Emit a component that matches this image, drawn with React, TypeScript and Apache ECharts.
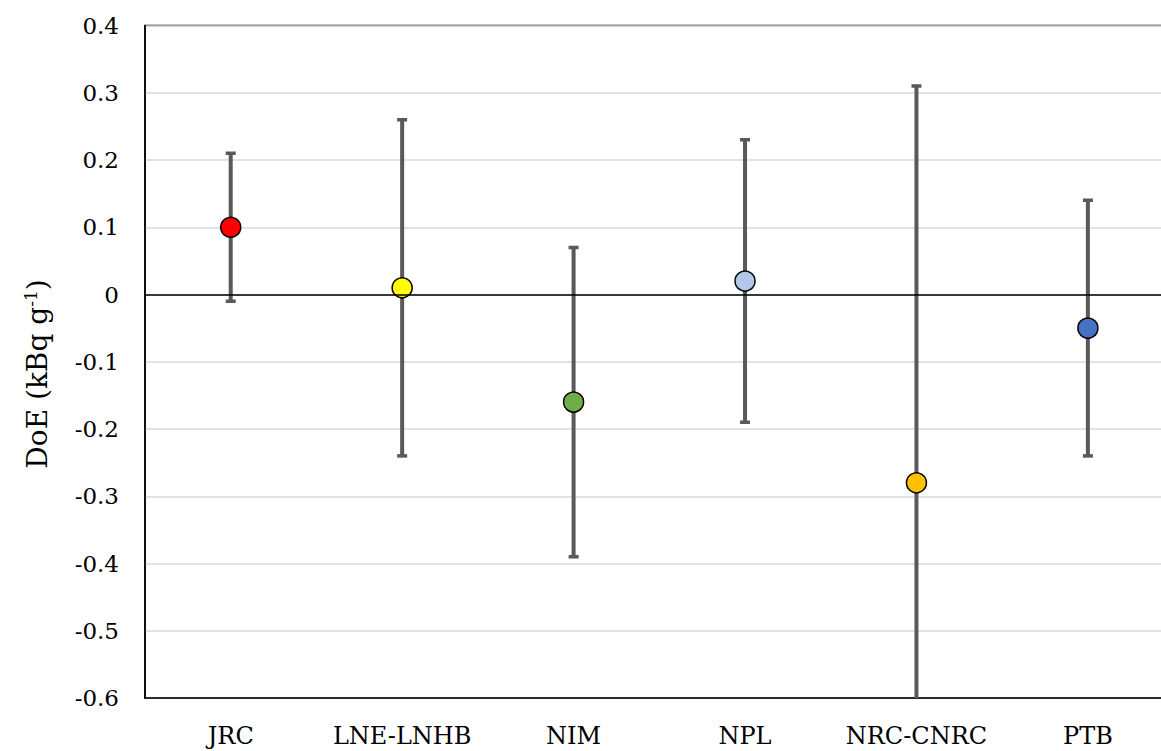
import React, { useEffect, useRef } from "react";
import * as echarts from "echarts";

const categories = ["JRC", "LNE-LNHB", "NIM", "NPL", "NRC-CNRC", "PTB"];
const doeValues = [0.1, 0.01, -0.16, 0.02, -0.28, -0.05];
const lowerBounds = [-0.01, -0.24, -0.39, -0.19, -0.87, -0.24];
const upperBounds = [0.21, 0.26, 0.07, 0.23, 0.31, 0.14];
const pointColors = ["#FF0000", "#FFFF00", "#70AD47", "#B4C7E7", "#FFC000", "#4472C4"];
const yTicks = [-0.6, -0.5, -0.4, -0.3, -0.2, -0.1, 0, 0.1, 0.2, 0.3, 0.4];
const yTitle = "DoE (kBq g{sup|-1})";

const FONT = "DejaVu Serif";

export default function App() {
  const ref = useRef<HTMLDivElement>(null);
  useEffect(() => {
    if (!ref.current) return;
    const chart = echarts.init(ref.current, undefined, { renderer: "svg" });
    const errData = categories.map((_, i) => [i, lowerBounds[i], upperBounds[i]]);
    const pts = categories.map((c, i) => ({
      value: [i, doeValues[i]],
      itemStyle: { color: pointColors[i] },
    }));
    chart.setOption({
      animation: false,
      backgroundColor: "#fff",
      grid: {
        left: 145,
        top: 25.5,
        width: 1028.6,
        height: 672.5,
        outerBoundsMode: "none",
        containLabel: false,
        show: true,
        borderColor: "#000",
        borderWidth: 1.5,
        backgroundColor: "transparent",
      },
      graphic: [
        {
          type: "text",
          x: 37,
          y: 374,
          rotation: Math.PI / 2,
          style: {
            text: yTitle,
            fontFamily: FONT,
            fontSize: 28,
            fill: "#000",
            align: "center",
            verticalAlign: "middle",
            rich: {
              sup: { fontFamily: FONT, fontSize: 17, fill: "#000", padding: [0, 0, 12, 0] },
            },
          },
        },
      ],
      xAxis: {
        type: "category",
        data: categories,
        axisLine: { onZero: false, lineStyle: { color: "#000", width: 1.5 } },
        axisTick: { show: false },
        axisLabel: { interval: 0, fontFamily: FONT, fontSize: 24, color: "#000", margin: 26 },
        splitLine: { show: false },
      },
      yAxis: {
        type: "value",
        min: yTicks[0],
        max: yTicks[yTicks.length - 1],
        interval: 0.1,
        axisLine: { show: true, lineStyle: { color: "#000", width: 1.5 } },
        axisTick: { show: false },
        axisLabel: {
          fontFamily: FONT,
          fontSize: 23,
          color: "#000",
          margin: 26,
          formatter: (v: number) => {
            const r = Math.round(v * 10) / 10;
            return r === 0 ? "0" : r.toFixed(1);
          },
        },
        splitLine: { show: true, lineStyle: { color: "#D9D9D9", width: 1.5 } },
      },
      series: [
        {
          type: "custom",
          clip: true,
          z: 2,
          data: errData,
          renderItem: (params: any, api: any) => {
            const i = api.value(0);
            const lo = api.coord([i, api.value(1)]);
            const hi = api.coord([i, api.value(2)]);
            const cs = params.coordSys;
            const bottom = cs.y + cs.height;
            const loY = Math.min(lo[1], bottom);
            const stroke = { stroke: "#595959", lineWidth: 4 };
            const children: any[] = [
              { type: "line", shape: { x1: hi[0], y1: hi[1], x2: lo[0], y2: loY }, style: stroke },
              { type: "line", shape: { x1: hi[0] - 5, y1: hi[1], x2: hi[0] + 5, y2: hi[1] }, style: { stroke: "#595959", lineWidth: 3.5 } },
            ];
            if (lo[1] <= bottom) {
              children.push({ type: "line", shape: { x1: lo[0] - 5, y1: lo[1], x2: lo[0] + 5, y2: lo[1] }, style: { stroke: "#595959", lineWidth: 3.5 } });
            }
            return { type: "group", children };
          },
          markLine: {
            silent: true,
            symbol: "none",
            label: { show: false },
            lineStyle: { color: "#000", width: 1.5, type: "solid" },
            data: [{ yAxis: 0 }],
          },
        },
        {
          type: "scatter",
          z: 3,
          symbol: "circle",
          symbolSize: 20,
          itemStyle: { borderColor: "#000", borderWidth: 1.5, opacity: 1 },
          data: pts,
        },
      ],
    });
    return () => chart.dispose();
  }, []);
  return (
    <div
      ref={ref}
      style={{ position: "absolute", left: 0, top: 0, width: 1161, height: 751, overflow: "hidden" }}
    />
  );
}
